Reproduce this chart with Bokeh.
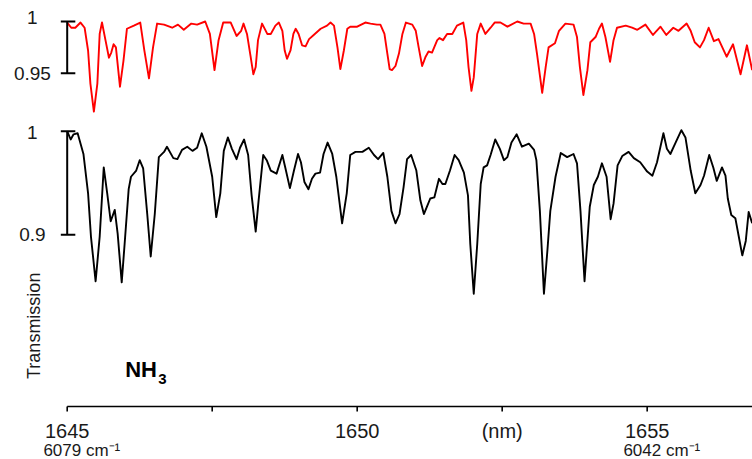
from bokeh.plotting import figure
from bokeh.models import Range1d, ColumnDataSource
from bokeh.core.properties import value
from bokeh.embed import file_html
from bokeh.resources import INLINE

# ---------------- data ----------------
wl_red = [1645.00, 1645.07, 1645.14, 1645.23, 1645.30, 1645.36, 1645.40, 1645.46, 1645.52, 1645.56,
          1645.60, 1645.66, 1645.72, 1645.76, 1645.80, 1645.84, 1645.91, 1645.97, 1646.03, 1646.15,
          1646.26, 1646.33, 1646.41, 1646.48, 1646.55, 1646.67, 1646.81, 1646.91, 1647.01, 1647.14,
          1647.24, 1647.38, 1647.46, 1647.54, 1647.61, 1647.69, 1647.82, 1647.92, 1648.00, 1648.04,
          1648.10, 1648.16, 1648.21, 1648.25, 1648.29, 1648.36, 1648.45, 1648.51, 1648.59, 1648.65,
          1648.71, 1648.75, 1648.79, 1648.85, 1648.90, 1648.94, 1648.99, 1649.05, 1649.11, 1649.17,
          1649.25, 1649.37, 1649.48, 1649.54, 1649.60, 1649.66, 1649.71, 1649.77, 1649.83, 1649.88,
          1650.00, 1650.14, 1650.23, 1650.34, 1650.40, 1650.47, 1650.52, 1650.56, 1650.60, 1650.66,
          1650.72, 1650.78, 1650.84, 1650.95, 1651.01, 1651.06, 1651.12, 1651.18, 1651.23, 1651.29,
          1651.38, 1651.42, 1651.48, 1651.55, 1651.64, 1651.72, 1651.83, 1651.88, 1651.92, 1651.97,
          1652.01, 1652.07, 1652.13, 1652.21, 1652.30, 1652.37, 1652.47, 1652.59, 1652.76, 1652.87,
          1652.99, 1653.05, 1653.10, 1653.19, 1653.25, 1653.30, 1653.41, 1653.48, 1653.59, 1653.73,
          1653.79, 1653.84, 1653.90, 1653.97, 1654.02, 1654.11, 1654.17, 1654.22, 1654.28, 1654.36,
          1654.42, 1654.48, 1654.63, 1654.74, 1654.83, 1654.97, 1655.10, 1655.23, 1655.33, 1655.45,
          1655.54, 1655.68, 1655.75, 1655.82, 1655.91, 1655.98, 1656.06, 1656.15, 1656.23, 1656.37,
          1656.48, 1656.61, 1656.72, 1656.81]
t_red = [0.999, 0.994, 0.994, 0.999, 0.994, 0.972, 0.940, 0.913, 0.940, 0.988,
         0.999, 0.982, 0.965, 0.970, 0.978, 0.975, 0.937, 0.962, 0.993, 0.996,
         0.999, 0.972, 0.945, 0.975, 0.998, 0.997, 0.994, 0.997, 0.992, 0.998,
         0.997, 1.000, 0.988, 0.953, 0.982, 0.999, 0.999, 0.986, 0.991, 0.998,
         0.988, 0.967, 0.949, 0.956, 0.982, 0.998, 0.988, 0.988, 0.996, 0.999,
         0.991, 0.972, 0.964, 0.972, 0.988, 0.993, 0.988, 0.977, 0.976, 0.983,
         0.987, 0.993, 0.996, 0.999, 0.996, 0.975, 0.954, 0.972, 0.993, 0.995,
         0.995, 0.999, 0.998, 0.997, 0.997, 0.988, 0.969, 0.954, 0.953, 0.957,
         0.969, 0.988, 0.999, 0.997, 0.991, 0.975, 0.957, 0.966, 0.971, 0.970,
         0.982, 0.984, 0.982, 0.988, 0.988, 0.996, 0.999, 0.982, 0.956, 0.933,
         0.946, 0.988, 0.998, 0.988, 0.994, 0.999, 0.999, 0.995, 1.000, 0.998,
         0.998, 0.988, 0.969, 0.931, 0.956, 0.975, 0.979, 0.991, 0.998, 0.997,
         0.985, 0.956, 0.929, 0.953, 0.980, 0.985, 0.993, 0.998, 0.985, 0.961,
         0.982, 0.994, 0.996, 0.994, 0.992, 0.997, 0.987, 0.995, 0.987, 0.994,
         0.991, 0.998, 0.991, 0.980, 0.975, 0.982, 0.994, 0.981, 0.983, 0.966,
         0.978, 0.949, 0.977, 0.953]

wl_black = [1645.00, 1645.06, 1645.11, 1645.18, 1645.28, 1645.36, 1645.41, 1645.49, 1645.56, 1645.63,
            1645.69, 1645.75, 1645.82, 1645.87, 1645.94, 1645.99, 1646.06, 1646.10, 1646.19, 1646.25,
            1646.31, 1646.38, 1646.44, 1646.51, 1646.58, 1646.67, 1646.72, 1646.83, 1646.90, 1646.98,
            1647.07, 1647.16, 1647.24, 1647.32, 1647.40, 1647.50, 1647.57, 1647.64, 1647.70, 1647.77,
            1647.84, 1647.92, 1647.98, 1648.05, 1648.12, 1648.18, 1648.25, 1648.30, 1648.38, 1648.44,
            1648.51, 1648.61, 1648.71, 1648.76, 1648.84, 1648.91, 1648.98, 1649.03, 1649.09, 1649.16,
            1649.22, 1649.28, 1649.36, 1649.42, 1649.49, 1649.57, 1649.64, 1649.74, 1649.82, 1649.88,
            1649.97, 1650.09, 1650.20, 1650.29, 1650.36, 1650.45, 1650.52, 1650.59, 1650.66, 1650.73,
            1650.80, 1650.86, 1650.93, 1651.02, 1651.09, 1651.15, 1651.21, 1651.26, 1651.33, 1651.41,
            1651.47, 1651.52, 1651.60, 1651.68, 1651.75, 1651.84, 1651.91, 1651.95, 1652.01, 1652.07,
            1652.13, 1652.18, 1652.24, 1652.30, 1652.38, 1652.46, 1652.53, 1652.59, 1652.66, 1652.75,
            1652.84, 1652.96, 1653.05, 1653.09, 1653.15, 1653.22, 1653.28, 1653.33, 1653.42, 1653.51,
            1653.62, 1653.73, 1653.79, 1653.85, 1653.92, 1654.01, 1654.08, 1654.15, 1654.22, 1654.30,
            1654.37, 1654.42, 1654.49, 1654.57, 1654.68, 1654.77, 1654.88, 1655.00, 1655.09, 1655.17,
            1655.28, 1655.34, 1655.40, 1655.49, 1655.59, 1655.66, 1655.75, 1655.83, 1655.92, 1655.98,
            1656.07, 1656.14, 1656.20, 1656.29, 1656.35, 1656.39, 1656.45, 1656.52, 1656.58, 1656.64,
            1656.70, 1656.75, 1656.81]
t_black = [1.000, 0.992, 0.997, 0.998, 0.978, 0.940, 0.898, 0.855, 0.898, 0.965,
           0.940, 0.913, 0.924, 0.901, 0.854, 0.891, 0.944, 0.956, 0.962, 0.972,
           0.964, 0.920, 0.879, 0.920, 0.975, 0.980, 0.985, 0.974, 0.973, 0.982,
           0.985, 0.981, 0.984, 0.998, 0.985, 0.956, 0.917, 0.940, 0.981, 0.994,
           0.983, 0.973, 0.984, 0.992, 0.977, 0.938, 0.903, 0.933, 0.977, 0.972,
           0.962, 0.959, 0.977, 0.965, 0.945, 0.962, 0.978, 0.970, 0.951, 0.944,
           0.954, 0.959, 0.960, 0.978, 0.989, 0.978, 0.956, 0.911, 0.940, 0.977,
           0.980, 0.980, 0.984, 0.977, 0.973, 0.979, 0.956, 0.923, 0.911, 0.920,
           0.946, 0.973, 0.977, 0.962, 0.933, 0.920, 0.928, 0.935, 0.936, 0.954,
           0.949, 0.949, 0.962, 0.977, 0.972, 0.960, 0.938, 0.891, 0.843, 0.891,
           0.949, 0.965, 0.967, 0.977, 0.992, 0.983, 0.972, 0.975, 0.989, 0.997,
           0.985, 0.988, 0.982, 0.972, 0.923, 0.843, 0.885, 0.923, 0.956, 0.979,
           0.975, 0.978, 0.969, 0.923, 0.855, 0.927, 0.948, 0.956, 0.969, 0.956,
           0.915, 0.930, 0.967, 0.976, 0.980, 0.974, 0.970, 0.961, 0.957, 0.970,
           0.998, 0.983, 0.978, 0.989, 1.001, 0.994, 0.962, 0.940, 0.948, 0.957,
           0.977, 0.965, 0.952, 0.965, 0.957, 0.935, 0.919, 0.916, 0.898, 0.880,
           0.894, 0.922, 0.911]

x_ticks = [1645, 1647.5, 1650, 1652.5, 1655]
x_tick_labels = ["1645", "", "1650", "(nm)", "1655"]
red_bar = [0.95, 1.0]          # scale bar of the red trace
black_bar = [0.9, 1.0]         # scale bar of the black trace
red_bar_labels = ["0.95", "1"]
black_bar_labels = ["0.9", "1"]
wavenumber_pos = [1645.0, 1655.0]
wavenumber_labels = ["6079 cm\u207b\u00b9", "6042 cm\u207b\u00b9"]

# ---------------- layout constants ----------------
RED_OFFSET = 0.106     # vertical offset of the red trace
BAR_X = 1645.0
CAP_L, CAP_R = 0.11, 0.14
X_START, X_END = 1643.85, 1656.816
AXIS_Y = 0.734         # level of the wavelength axis line
TICK_LEN = 0.0048
TICK_LABEL_Y = 0.7103
WAVENUM_Y = 0.6912
FONT = "Liberation Sans"
TXT = "#1a1a1a"

p = figure(width=752, height=459, output_backend="svg", toolbar_location=None,
           x_range=Range1d(X_START, X_END), y_range=Range1d(0.6828, 1.1263),
           x_axis_location=None, y_axis_location=None,
           min_border_left=0, min_border_right=0, min_border_top=0, min_border_bottom=0)
p.outline_line_color = None
p.background_fill_color = "white"
p.border_fill_color = "white"
p.xgrid.visible = False
p.ygrid.visible = False

# wavelength axis: line, ticks, labels
p.segment(x0=[x_ticks[0]], y0=[AXIS_Y], x1=[X_END], y1=[AXIS_Y], line_color="black", line_width=1.6)
p.segment(x0=x_ticks, y0=[AXIS_Y] * len(x_ticks), x1=x_ticks, y1=[AXIS_Y - TICK_LEN] * len(x_ticks),
          line_color="black", line_width=1.6)
p.text(x=x_ticks, y=[TICK_LABEL_Y] * len(x_ticks), text=x_tick_labels,
       text_font=value(FONT), text_font_size="20px", text_color=TXT,
       text_align="center", text_baseline="middle")
p.text(x=[w - 0.41 for w in wavenumber_pos], y=[WAVENUM_Y] * 2, text=wavenumber_labels,
       text_font=value(FONT), text_font_size="17px", text_color=TXT,
       text_align="left", text_baseline="middle")

# traces
red_src = ColumnDataSource(dict(x=wl_red, y=[v + RED_OFFSET for v in t_red]))
black_src = ColumnDataSource(dict(x=wl_black, y=t_black))
p.line("x", "y", source=red_src, line_color="#ff0000", line_width=1.9, line_join="round")
p.line("x", "y", source=black_src, line_color="black", line_width=1.9, line_join="round")

# scale bars
for bar, off in ((red_bar, RED_OFFSET), (black_bar, 0.0)):
    p.segment(x0=[BAR_X], y0=[bar[0] + off], x1=[BAR_X], y1=[bar[1] + off],
              line_color="black", line_width=2)
    p.segment(x0=[BAR_X - CAP_L] * 2, y0=[b + off for b in bar],
              x1=[BAR_X + CAP_R] * 2, y1=[b + off for b in bar],
              line_color="black", line_width=2)

lab_x = 1644.40
p.text(x=[lab_x] * 4,
       y=[red_bar[0] + RED_OFFSET, red_bar[1] + RED_OFFSET + 0.004, black_bar[0], black_bar[1] - 0.001],
       text=red_bar_labels + black_bar_labels,
       text_font=value(FONT), text_font_size="19px", text_color=TXT,
       text_align="center", text_baseline="middle")

# y title
p.text(x=[1644.43], y=[0.812], text=["Transmission"], angle=1.5708,
       text_font=value(FONT), text_font_size="18px", text_color=TXT,
       text_align="center", text_baseline="middle")

# NH3 label
p.text(x=[1646.0], y=[0.7695], text=["NH"], text_font=value(FONT), text_font_size="22px",
       text_font_style="bold", text_color="black", text_align="left", text_baseline="middle")
p.text(x=[1646.57], y=[0.7608], text=["3"], text_font=value(FONT), text_font_size="15px",
       text_font_style="bold", text_color="black", text_align="left", text_baseline="middle")

open("out.html", "w").write(file_html(p, INLINE))
